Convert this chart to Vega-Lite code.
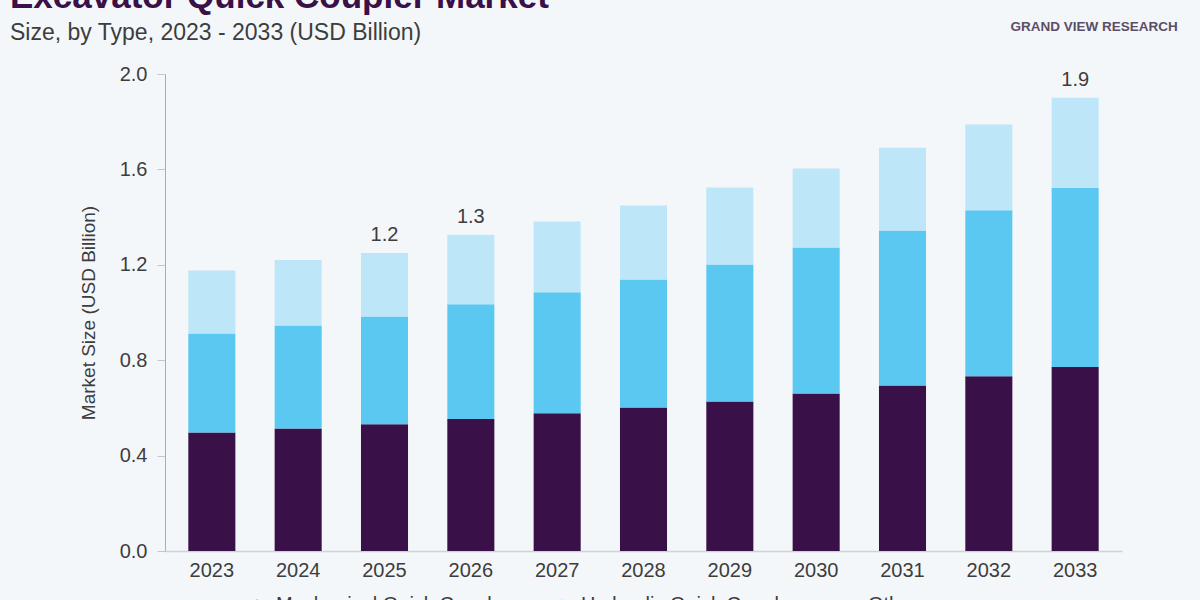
{
  "$schema": "https://vega.github.io/schema/vega-lite/v6.json",
  "width": 957,
  "height": 477,
  "autosize": {"type": "none"},
  "padding": {"left": 165, "top": 74, "right": 78, "bottom": 49},
  "background": "#f4f7fa",
  "title": {
    "text": "Excavator Quick Coupler Market",
    "subtitle": "Size, by Type, 2023 - 2033 (USD Billion)",
    "anchor": "start",
    "frame": "group",
    "dx": -155,
    "dy": 45,
    "offset": 20,
    "font": "Liberation Sans",
    "fontSize": 35,
    "fontWeight": "bold",
    "color": "#3a1048",
    "subtitleFont": "Liberation Sans",
    "subtitleFontSize": 23,
    "subtitleColor": "#3d3d3d",
    "subtitlePadding": 7
  },
  "datasets": {
    "market": [
      {"year": "2023", "type": "Mechanical Quick Couplers", "value": 0.497},
      {"year": "2023", "type": "Hydraulic Quick Couplers", "value": 0.415},
      {"year": "2023", "type": "Others", "value": 0.264},
      {"year": "2024", "type": "Mechanical Quick Couplers", "value": 0.514},
      {"year": "2024", "type": "Hydraulic Quick Couplers", "value": 0.431},
      {"year": "2024", "type": "Others", "value": 0.275},
      {"year": "2025", "type": "Mechanical Quick Couplers", "value": 0.531},
      {"year": "2025", "type": "Hydraulic Quick Couplers", "value": 0.452},
      {"year": "2025", "type": "Others", "value": 0.266},
      {"year": "2026", "type": "Mechanical Quick Couplers", "value": 0.553},
      {"year": "2026", "type": "Hydraulic Quick Couplers", "value": 0.482},
      {"year": "2026", "type": "Others", "value": 0.291},
      {"year": "2027", "type": "Mechanical Quick Couplers", "value": 0.578},
      {"year": "2027", "type": "Hydraulic Quick Couplers", "value": 0.507},
      {"year": "2027", "type": "Others", "value": 0.297},
      {"year": "2028", "type": "Mechanical Quick Couplers", "value": 0.602},
      {"year": "2028", "type": "Hydraulic Quick Couplers", "value": 0.536},
      {"year": "2028", "type": "Others", "value": 0.311},
      {"year": "2029", "type": "Mechanical Quick Couplers", "value": 0.627},
      {"year": "2029", "type": "Hydraulic Quick Couplers", "value": 0.574},
      {"year": "2029", "type": "Others", "value": 0.323},
      {"year": "2030", "type": "Mechanical Quick Couplers", "value": 0.660},
      {"year": "2030", "type": "Hydraulic Quick Couplers", "value": 0.613},
      {"year": "2030", "type": "Others", "value": 0.331},
      {"year": "2031", "type": "Mechanical Quick Couplers", "value": 0.694},
      {"year": "2031", "type": "Hydraulic Quick Couplers", "value": 0.650},
      {"year": "2031", "type": "Others", "value": 0.347},
      {"year": "2032", "type": "Mechanical Quick Couplers", "value": 0.733},
      {"year": "2032", "type": "Hydraulic Quick Couplers", "value": 0.696},
      {"year": "2032", "type": "Others", "value": 0.359},
      {"year": "2033", "type": "Mechanical Quick Couplers", "value": 0.772},
      {"year": "2033", "type": "Hydraulic Quick Couplers", "value": 0.751},
      {"year": "2033", "type": "Others", "value": 0.377}
    ]
  },
  "layer": [
    {
      "data": {"name": "market"},
      "transform": [
        {"calculate": "indexof(['Mechanical Quick Couplers', 'Hydraulic Quick Couplers', 'Others'], datum.type)", "as": "stackOrder"}
      ],
      "mark": {"type": "bar"},
      "encoding": {
        "x": {
          "field": "year",
          "type": "ordinal",
          "scale": {"paddingInner": 0.455, "paddingOuter": 0.27},
          "axis": {
            "title": null,
            "labelAngle": 0,
            "ticks": false,
            "domainColor": "#cfd3d8",
            "domainWidth": 1.5,
            "labelPadding": 9,
            "labelFontSize": 20,
            "labelColor": "#3d3d3d"
          }
        },
        "y": {
          "field": "value",
          "type": "quantitative",
          "aggregate": "sum",
          "scale": {"domain": [0, 2.0], "nice": false},
          "axis": {
            "title": "Market Size (USD Billion)",
            "values": [0, 0.4, 0.8, 1.2, 1.6, 2.0],
            "format": ".1f",
            "grid": false,
            "domainColor": "#a9adb2",
            "tickColor": "#c4c7cb",
            "tickSize": 8,
            "labelPadding": 10,
            "labelFontSize": 20,
            "labelColor": "#3d3d3d",
            "titleFontSize": 19,
            "titleFontWeight": "normal",
            "titleColor": "#3d3d3d",
            "titlePadding": 21
          }
        },
        "color": {
          "field": "type",
          "type": "nominal",
          "scale": {
            "domain": ["Mechanical Quick Couplers", "Hydraulic Quick Couplers", "Others"],
            "range": ["#3a1048", "#5bc8f2", "#bde6f8"]
          },
          "legend": {
            "title": null,
            "orient": "none",
            "direction": "horizontal",
            "legendX": 82,
            "legendY": 521,
            "symbolType": "circle",
            "symbolSize": 110,
            "labelOffset": 9,
            "labelFontSize": 20,
            "labelLimit": 400,
            "labelColor": "#3d3d3d",
            "columnPadding": 32
          }
        },
        "order": {"field": "stackOrder", "type": "quantitative", "sort": "ascending"}
      }
    },
    {
      "data": {"name": "market"},
      "transform": [
        {"filter": {"field": "year", "oneOf": ["2025", "2026", "2033"]}},
        {"aggregate": [{"op": "sum", "field": "value", "as": "total"}], "groupby": ["year"]}
      ],
      "mark": {
        "type": "text",
        "baseline": "bottom",
        "dy": -8,
        "fontSize": 20,
        "color": "#3d3d3d"
      },
      "encoding": {
        "x": {"field": "year", "type": "ordinal"},
        "y": {"field": "total", "type": "quantitative"},
        "text": {"field": "total", "type": "quantitative", "format": ".1f"}
      }
    },
    {
      "data": {"values": [{"brand": "GRAND VIEW RESEARCH"}]},
      "mark": {
        "type": "text",
        "dx": 19,
        "fontSize": 13.5,
        "fontWeight": "bold",
        "color": "#5b4e66"
      },
      "encoding": {
        "x": {"datum": "2033"},
        "y": {"datum": 2.197},
        "text": {"field": "brand"}
      }
    }
  ],
  "config": {
    "view": {"stroke": null},
    "font": "Liberation Sans"
  }
}
